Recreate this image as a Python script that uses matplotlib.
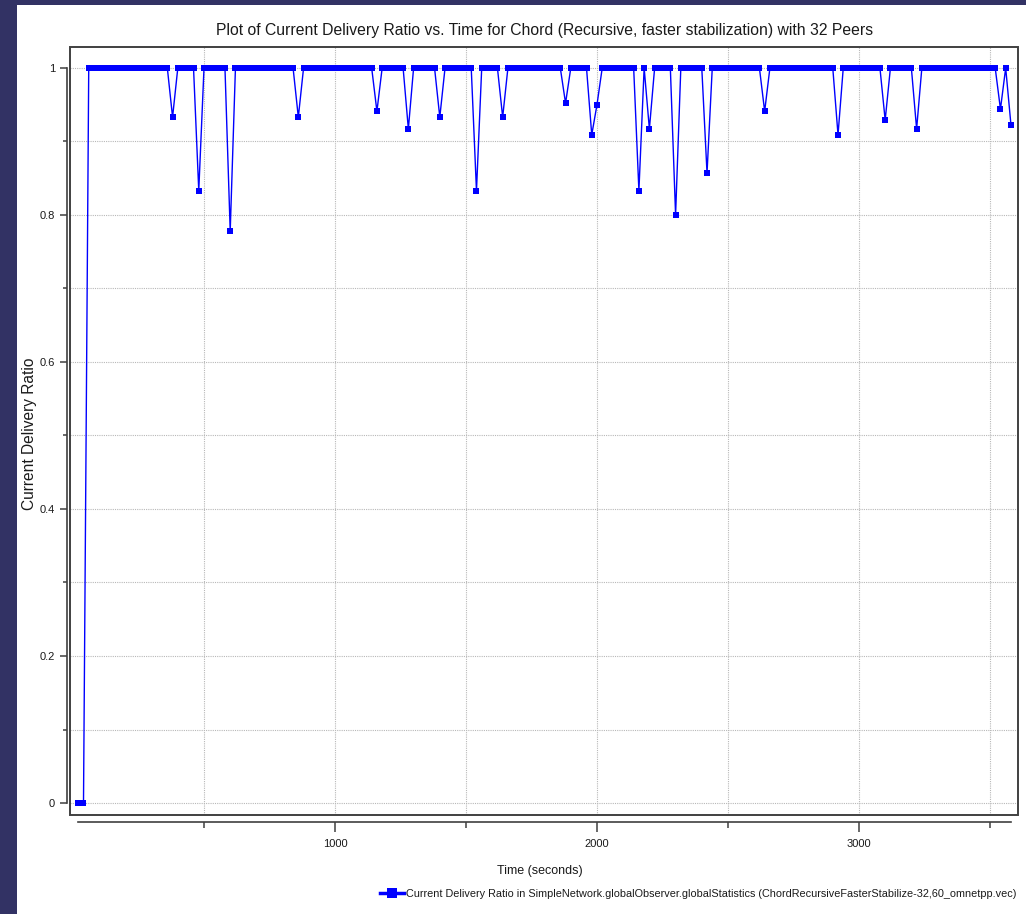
import numpy as np
import matplotlib
matplotlib.use("Agg")
import matplotlib.pyplot as plt
from matplotlib.lines import Line2D
from matplotlib.patches import Rectangle


# samples every 20 s; ratio is 1.0 except start-up zeros and the dips below
sample_times = np.arange(20, 3600, 20)
startup_times = [20, 40]
startup_ratios = [0.0, 0.0]
dip_times = [380, 480, 600, 860, 1160, 1280, 1400, 1540, 1640, 1880, 1980,
             2000, 2160, 2200, 2300, 2420, 2640, 2920, 3100, 3220, 3540, 3580]
dip_ratios = [0.933, 0.833, 0.778, 0.933, 0.941, 0.917, 0.933, 0.833, 0.933,
              0.952, 0.909, 0.95, 0.833, 0.917, 0.8, 0.857, 0.941, 0.909,
              0.929, 0.917, 0.944, 0.923]

x_major = [1000, 2000, 3000]
x_minor = [500, 1500, 2500, 3500]
y_major = [0, 0.2, 0.4, 0.6, 0.8, 1.0]
y_minor = [0.1, 0.3, 0.5, 0.7, 0.9]

title = "Plot of Current Delivery Ratio vs. Time for Chord (Recursive, faster stabilization) with 32 Peers"
series_label = ("Current Delivery Ratio in SimpleNetwork.globalObserver.globalStatistics "
                "(ChordRecursiveFasterStabilize-32,60_omnetpp.vec)")

ratio = np.ones(len(sample_times))
for t, r in zip(startup_times + dip_times, startup_ratios + dip_ratios):
    ratio[sample_times == t] = r

#%%
sans = ["Liberation Sans", "DejaVu Sans"]
txt_col = "#1a1a1a"
axis_col = "#404040"
blue = "#0000ff"

W, H = 1026, 914
fig = plt.figure(figsize=(W / 100, H / 100), dpi=100, facecolor="#323264")
fig.patches.append(Rectangle((17 / W, 0), 1, (H - 5) / H, transform=fig.transFigure,
                             facecolor="white", edgecolor="none", zorder=-10))

ax = fig.add_axes([70 / W, (H - 815) / H, 948 / W, 768 / H])
ax.set_facecolor("white")

ax.plot(sample_times, ratio, color=blue, lw=1.0, marker="s", markersize=5,
        markeredgewidth=0, zorder=3)

ax.set_xlim(-11.5, 3607)
ax.set_ylim(-0.0163, 1.0285)

ax.set_xticks(x_major)
ax.set_xticks(x_minor, minor=True)
ax.set_yticks(y_major)
ax.set_yticks(y_minor, minor=True)
ax.set_xticklabels([str(v) for v in x_major])
ax.set_yticklabels(["%g" % v for v in y_major])

ax.grid(which="both", color="#b8b8b8", linestyle=(0, (1, 1)), linewidth=0.8)
ax.set_axisbelow(True)

# box around plot area, axes drawn as offset spines
for s in ["top", "right"]:
    ax.spines[s].set_visible(False)
ax.add_patch(Rectangle((0, 0), 1, 1, transform=ax.transAxes, fill=False,
                       edgecolor=axis_col, linewidth=1.4, clip_on=False, zorder=4))
ax.spines["left"].set_position(("outward", 2.2))
ax.spines["left"].set_bounds(0, 1)
ax.spines["bottom"].set_position(("outward", 4.8))
ax.spines["bottom"].set_bounds(20, 3580)
for s in ["left", "bottom"]:
    ax.spines[s].set_color(axis_col)
    ax.spines[s].set_linewidth(1.2)

ax.tick_params(axis="y", which="major", direction="out", length=5, width=1.1,
               color=axis_col, pad=3.6, labelsize=8, labelcolor=txt_col)
ax.tick_params(axis="y", which="minor", direction="out", length=3, width=1.1,
               color=axis_col)
ax.tick_params(axis="x", which="major", direction="out", length=7.2, width=1.1,
               color=axis_col, pad=5, labelsize=8, labelcolor=txt_col)
ax.tick_params(axis="x", which="minor", direction="out", length=4.3, width=1.1,
               color=axis_col)
for lab in ax.get_xticklabels() + ax.get_yticklabels():
    lab.set_family(sans)

fig.text(544.5 / W, 1 - 30 / H, title, ha="center", va="center",
         fontsize=11.3, family=sans, color=txt_col)
fig.text(540 / W, 1 - 871 / H, "Time (seconds)", ha="center", va="center",
         fontsize=9, family=sans, color=txt_col)
fig.text(30 / W, 1 - 434 / H, "Current Delivery Ratio", ha="center", va="center",
         rotation=90, fontsize=11.2, family=sans, color=txt_col)

handle = Line2D([], [], color=blue, lw=2.5, marker="s", markersize=7, markeredgewidth=0)
leg = fig.legend([handle], [series_label], loc="center left",
                 bbox_to_anchor=(380 / W, 1 - 894 / H), frameon=False,
                 handlelength=2.2, handletextpad=0.15, borderpad=0, borderaxespad=0,
                 prop={"family": sans, "size": 7.85})
for t in leg.get_texts():
    t.set_color(txt_col)

fig.savefig("out.png", dpi=100, facecolor=fig.get_facecolor())
